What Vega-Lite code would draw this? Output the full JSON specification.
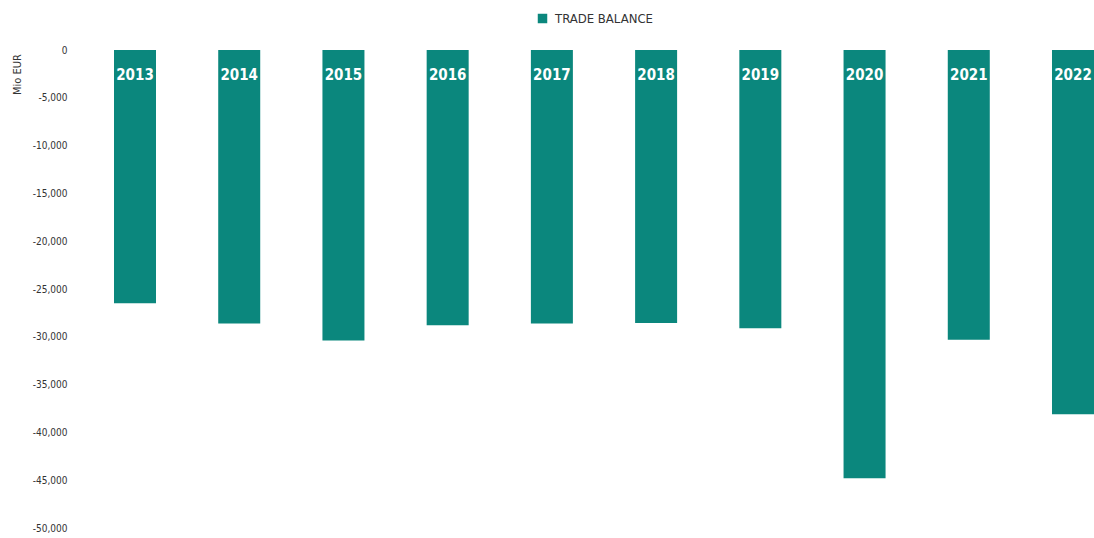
{
  "$schema": "https://vega.github.io/schema/vega-lite/v6.json",
  "autosize": {"type": "none"},
  "width": 980,
  "height": 478,
  "padding": {"left": 114, "top": 50, "right": 0, "bottom": 10},
  "background": "white",
  "config": {"view": {"stroke": null}, "font": "DejaVu Sans Condensed, Roboto, sans-serif"},
  "data": {"values": [
    {"year": "2013", "value": -26500, "series": "TRADE BALANCE"},
    {"year": "2014", "value": -28600, "series": "TRADE BALANCE"},
    {"year": "2015", "value": -30400, "series": "TRADE BALANCE"},
    {"year": "2016", "value": -28800, "series": "TRADE BALANCE"},
    {"year": "2017", "value": -28600, "series": "TRADE BALANCE"},
    {"year": "2018", "value": -28550, "series": "TRADE BALANCE"},
    {"year": "2019", "value": -29100, "series": "TRADE BALANCE"},
    {"year": "2020", "value": -44800, "series": "TRADE BALANCE"},
    {"year": "2021", "value": -30300, "series": "TRADE BALANCE"},
    {"year": "2022", "value": -38100, "series": "TRADE BALANCE"}
  ]},
  "encoding": {
    "x": {"field": "year", "type": "nominal", "axis": null,
          "scale": {"paddingInner": 0.597, "paddingOuter": 0}}
  },
  "layer": [
    {
      "mark": {"type": "bar"},
      "encoding": {
        "y": {"field": "value", "type": "quantitative",
              "scale": {"domain": [-50000, 0], "nice": false},
              "axis": {
                "title": "Mio EUR",
                "values": [0, -5000, -10000, -15000, -20000, -25000, -30000, -35000, -40000, -45000, -50000],
                "labelExpr": "replace(format(datum.value, ','), '\u2212', '-')",
                "grid": false, "ticks": false, "domain": false,
                "labelPadding": 47,
                "labelFontSize": 10,
                "labelColor": "#333333",
                "labelFont": "DejaVu Sans Condensed, Roboto, sans-serif",
                "titleFont": "DejaVu Sans Condensed, Roboto, sans-serif",
                "titleFontSize": 11,
                "titleFontWeight": "normal",
                "titleColor": "#333333",
                "titleAngle": -90,
                "titleX": -97,
                "titleY": 24,
                "titleAlign": "center",
                "titleBaseline": "middle"
              }},
        "color": {"field": "series", "type": "nominal",
                  "scale": {"range": ["#0b877d"]},
                  "legend": {"title": null, "orient": "none", "legendX": 422, "legendY": -38,
                             "symbolType": "square", "symbolSize": 90, "symbolOpacity": 1,
                             "labelFontSize": 13, "labelColor": "#333333",
                             "labelFont": "DejaVu Sans Condensed, Roboto, sans-serif", "labelOffset": 6}}
      }
    },
    {
      "mark": {"type": "text", "color": "white", "fontWeight": "bold", "fontSize": 15,
               "font": "DejaVu Sans Condensed, Roboto, sans-serif", "baseline": "middle", "dy": 25},
      "encoding": {
        "y": {"datum": 0, "type": "quantitative"},
        "text": {"field": "year"}
      }
    }
  ]
}
